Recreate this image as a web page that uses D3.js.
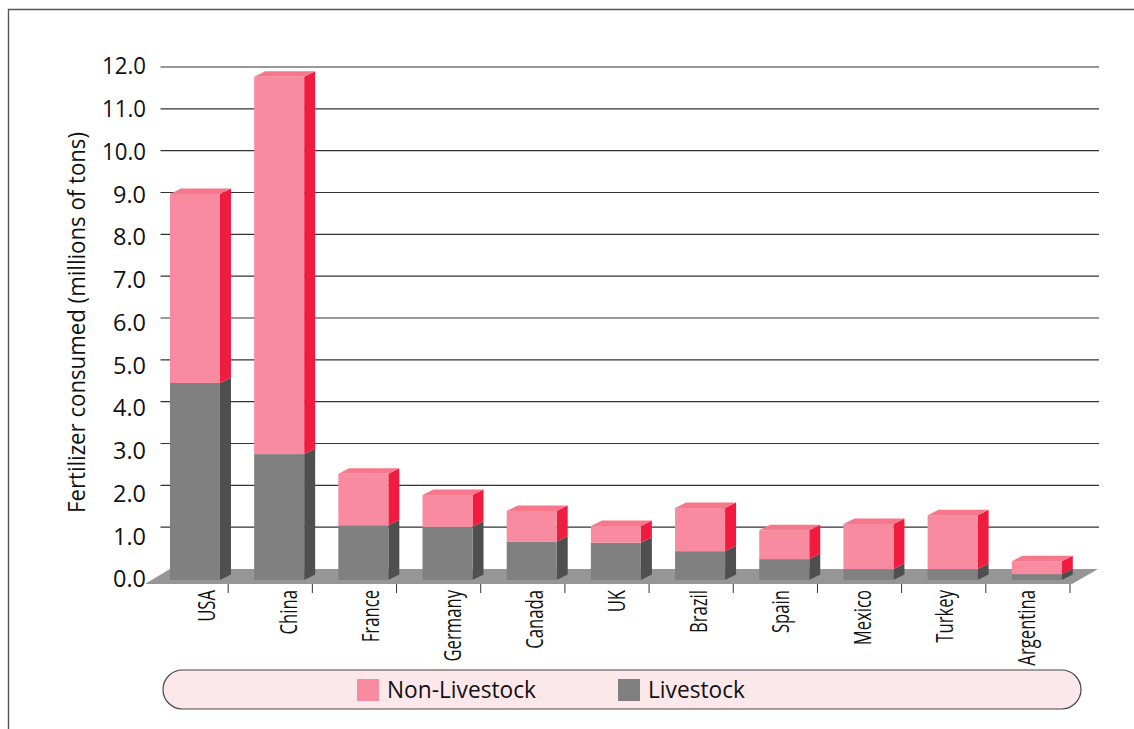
<!DOCTYPE html>
<html><head><meta charset="utf-8">
<script src="https://cdnjs.cloudflare.com/ajax/libs/d3/7.8.5/d3.min.js"></script>
<style>html,body{margin:0;padding:0;background:#fff}svg{display:block}text{font-family:"Open Sans","Noto Sans",sans-serif;fill:#111}</style>
</head><body><svg id="c" width="1134" height="729"></svg>
<script>
const countries = ["USA","China","France","Germany","Canada","UK","Brazil","Spain","Mexico","Turkey","Argentina"];
const livestock = [4.71,3.01,1.31,1.27,0.92,0.89,0.69,0.50,0.26,0.26,0.14];
const nonLivestock = [4.52,9.02,1.23,0.76,0.73,0.40,1.03,0.69,1.08,1.29,0.31];
const yTicks = [0,1,2,3,4,5,6,7,8,9,10,11,12];
const seriesNames = ["Livestock","Non-Livestock"];
const legendOrder = ["Non-Livestock","Livestock"];
const front = {"Livestock":"#808080","Non-Livestock":"#f98ba0"};
const side = {"Livestock":"#4f4f4f","Non-Livestock":"#f01c40"};
const topFace = "#f7788c";

const svg = d3.select("#c");
const wallY = d3.scaleLinear().domain([0,12]).range([569,67]);
const labelY = d3.scaleLinear().domain([0,12]).range([579,66]);
const x = d3.scaleBand().domain(countries).range([144,1070]).paddingInner(.406).paddingOuter(.203).align(.76);
const labelX = d3.scalePoint().domain(countries).range([214.7,1035]);
const dx = 11, dyDepth = 5.5, frontShift = 11;
const yF = v => wallY(v) + frontShift;

// frame
svg.append("path").attr("d","M8.5,729V9.5H1134").attr("fill","none").attr("stroke","#555").attr("stroke-width",1.4);

// gridlines (skip zero, it is the floor)
svg.append("g").selectAll("line").data(yTicks.filter(d=>d>0)).join("line")
  .attr("x1",160.5).attr("x2",1099).attr("y1",d=>wallY(d)).attr("y2",d=>wallY(d))
  .attr("stroke","#333").attr("stroke-width",1.2);

// floor
const fl = [[x.range()[0]+1,584],[170,569],[1098,569],[x.range()[1]+2,584]];
svg.append("polygon").attr("points",fl.join(" ")).attr("fill","#969696");

// ticks
const tickX = countries.map(c=>x(c) + x.bandwidth() + (x.step()-x.bandwidth())*.24);
svg.append("g").selectAll("line").data(tickX).join("line")
  .attr("x1",d=>d).attr("x2",d=>d).attr("y1",584).attr("y2",593)
  .attr("stroke","#333").attr("stroke-width",1);

// stacked bars
const rows = countries.map((c,i)=>({country:c,"Livestock":livestock[i],"Non-Livestock":nonLivestock[i]}));
const stacked = d3.stack().keys(seriesNames)(rows);
stacked.forEach(s=>{
  const g = svg.append("g");
  s.forEach(d=>{
    const c=d.data.country, x0=x(c), x1=x0+x.bandwidth(), y0=yF(d[0]), y1=yF(d[1]);
    g.append("polygon").attr("points",[[x1,y0],[x1+dx,y0-dyDepth],[x1+dx,y1-dyDepth],[x1,y1]].join(" ")).attr("fill",side[s.key]);
    g.append("rect").attr("x",x0).attr("y",y1).attr("width",x.bandwidth()).attr("height",y0-y1).attr("fill",front[s.key]);
    if(s.key==="Non-Livestock"){
      g.append("polygon").attr("points",[[x0,y1],[x0+dx,y1-dyDepth],[x1+dx,y1-dyDepth],[x1,y1]].join(" ")).attr("fill",topFace);
    }
  });
});

// y labels
svg.append("g").selectAll("text").data(yTicks).join("text")
  .attr("x",146).attr("y",d=>labelY(d)).attr("dy",".36em").attr("text-anchor","end")
  .attr("font-size",23).attr("textLength",d=>d>=10?44:33).attr("lengthAdjust","spacingAndGlyphs")
  .text(d=>d3.format(".1f")(d));

// y title
svg.append("text").attr("transform","translate(85,513) rotate(-90)")
  .attr("font-size",23).attr("textLength",381).attr("lengthAdjust","spacingAndGlyphs")
  .text("Fertilizer consumed (millions of tons)");

// x labels
svg.append("g").selectAll("text").data(countries).join("text")
  .attr("transform",d=>`translate(${labelX(d)},590) rotate(-90) scale(.695,1)`)
  .attr("text-anchor","end").attr("font-size",24).text(d=>d);

// legend
svg.append("rect").attr("x",163).attr("y",670).attr("width",918).attr("height",39).attr("rx",19.5)
  .attr("fill","#fce8ea").attr("stroke","#444").attr("stroke-width",1.2);
const legX = d3.scaleOrdinal().domain(legendOrder).range([357,618]);
const legW = {"Non-Livestock":149,"Livestock":97};
const lg = svg.append("g").selectAll("g").data(legendOrder).join("g");
lg.append("rect").attr("x",d=>legX(d)).attr("y",679).attr("width",22).attr("height",22).attr("fill",d=>front[d]);
lg.append("text").attr("x",d=>legX(d)+30).attr("y",698).attr("font-size",23)
  .attr("textLength",d=>legW[d]).attr("lengthAdjust","spacingAndGlyphs").text(d=>d);
</script></body></html>
